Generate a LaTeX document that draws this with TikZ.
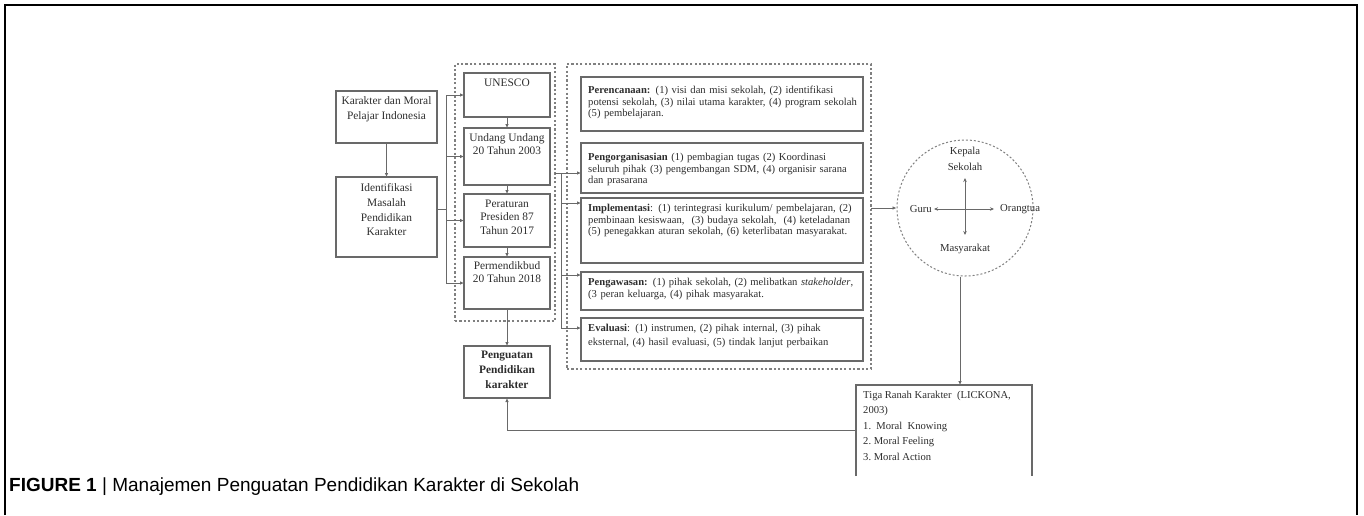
\documentclass[tikz,border=0pt]{standalone}
\usepackage{fontspec}
\setmainfont{Liberation Serif}
\newfontfamily\capfont{Liberation Sans}
\usetikzlibrary{arrows.meta}
\definecolor{lnc}{RGB}{105,105,105}
\definecolor{txc}{RGB}{45,45,45}
\newcommand\jline[1]{\leavevmode\hbox to 270pt{#1}}
\begin{document}
\begin{tikzpicture}[x=1pt,y=-1pt,
  box/.style={draw=lnc, line width=1.3pt, rectangle, inner sep=0pt, outer sep=0pt, anchor=north west},
  grp/.style={draw=lnc!85, line width=1.1pt, dash pattern=on 2.2pt off 2.2pt, rectangle, inner sep=0pt, outer sep=0pt, anchor=north west},
  wire/.style={draw=lnc, line width=1pt},
  arr/.style={draw=lnc, line width=1pt, -{Latex[length=4pt,width=3.6pt]}},
  lt/.style={font=\fontsize{11.4}{15}\selectfont, text=txc, align=center, anchor=north, inner sep=0pt},
  rt/.style={font=\fontsize{10.6}{11.6}\selectfont, text=txc, align=left, anchor=north west, inner sep=0pt, text width=270pt},
  ct/.style={font=\fontsize{10.7}{16}\selectfont, text=txc, align=center, inner sep=0pt}
]
\useasboundingbox (0,0) rectangle (1364,515);
% outer frame
\draw[line width=1.5pt] (5,515) -- (5,5) -- (1357,5) -- (1357,515);

% left column
\node[box, minimum width=101pt, minimum height=52pt] (kar) at (336,91) {};
\node[lt] (kart) at (386.5,96.5) {Karakter dan Moral\\Pelajar Indonesia};
\node[box, minimum width=101pt, minimum height=80pt] (ide) at (336,177) {};
\node[lt, font=\fontsize{11.4}{14.7}\selectfont] (idet) at (386.5,183.5) {Identifikasi\\Masalah\\Pendidikan\\Karakter};

% group 1
\node[grp, minimum width=100pt, minimum height=257pt] (grp1) at (455,64) {};
\node[box, minimum width=86pt, minimum height=44pt] (une) at (464,73) {};
\node[lt] (unet) at (507,78.5) {UNESCO};
\node[box, minimum width=86pt, minimum height=57pt] (uu) at (464,128) {};
\node[lt, font=\fontsize{11.4}{13}\selectfont] (uut) at (507,133.5) {Undang Undang\\20 Tahun 2003};
\node[box, minimum width=86pt, minimum height=53pt] (per) at (464,194) {};
\node[lt, font=\fontsize{11.4}{13.5}\selectfont] (pert) at (507,199.5) {Peraturan\\Presiden 87\\Tahun 2017};
\node[box, minimum width=86pt, minimum height=52pt] (pmd) at (464,257) {};
\node[lt, font=\fontsize{11.4}{13}\selectfont] (pmdt) at (507,261.5) {Permendikbud\\20 Tahun 2018};
\node[box, minimum width=86pt, minimum height=52pt] (pen) at (464,346) {};
\node[lt, font=\bfseries\fontsize{11.4}{15}\selectfont] (pent) at (507,350.5) {Penguatan\\Pendidikan\\karakter};

% group 2
\node[grp, minimum width=304pt, minimum height=305pt] (grp2) at (567,64) {};
\node[box, minimum width=282pt, minimum height=54pt] (r1) at (581,77) {};
\node[rt] (r1t) at (588,86) {\jline{\textbf{Perencanaan:} (1) visi dan misi sekolah, (2) identifikasi}\\
\jline{potensi sekolah, (3) nilai utama karakter, (4) program sekolah}\\
(5) pembelajaran.};
\node[box, minimum width=282pt, minimum height=50pt] (r2) at (581,143) {};
\node[rt] (r2t) at (588,153) {\jline{\textbf{Pengorganisasian} (1) pembagian tugas (2) Koordinasi}\\
\jline{seluruh pihak (3) pengembangan SDM, (4) organisir sarana}\\
dan prasarana};
\node[box, minimum width=282pt, minimum height=65pt] (r3) at (581,198) {};
\node[rt] (r3t) at (588,204) {\jline{\textbf{Implementasi}: (1) terintegrasi kurikulum/ pembelajaran, (2)}\\
\jline{pembinaan kesiswaan,\ \ (3) budaya sekolah,\ \ (4) keteladanan}\\
(5) penegakkan aturan sekolah, (6) keterlibatan masyarakat.};
\node[box, minimum width=282pt, minimum height=38pt] (r4) at (581,272) {};
\node[rt] (r4t) at (588,278) {\jline{\textbf{Pengawasan:} (1) pihak sekolah, (2) melibatkan \textit{stakeholder},}\\
(3 peran keluarga, (4) pihak masyarakat.};
\node[box, minimum width=282pt, minimum height=43pt] (r5) at (581,318) {};
\node[rt, font=\fontsize{10.6}{13.5}\selectfont] (r5t) at (588,324) {\textbf{Evaluasi}: (1) instrumen, (2) pihak internal, (3) pihak\\
eksternal, (4) hasil evaluasi, (5) tindak lanjut perbaikan};

% circle
\node[draw=lnc!85, line width=1pt, dash pattern=on 2pt off 2pt, circle, minimum size=136pt, inner sep=0pt] (circ) at (965,208) {};
\coordinate (cc) at (965,209);
\coordinate (cu) at (965,178);
\coordinate (cd) at (965,235);
\coordinate (cl) at (934,209);
\coordinate (cr) at (994,209);
\node[ct, anchor=north] (kep) at (965,147) {Kepala\\Sekolah};
\node[ct, anchor=east] (guru) at (932,209) {Guru};
\node[ct, anchor=west] (ort) at (1000,209) {Orangtua};
\node[ct, anchor=center] (mas) at (965,249) {Masyarakat};

% Tiga box (open at bottom)
\node[draw=none, rectangle, inner sep=0pt, outer sep=0pt, anchor=north west, minimum width=176pt, minimum height=91pt] (tiga) at (856,385) {};
\draw[draw=lnc, line width=1.3pt] (tiga.south west) -- (tiga.north west) -- (tiga.north east) -- (tiga.south east);
\node[ct, anchor=north west, align=left, font=\fontsize{10.6}{15.5}\selectfont] (tigat) at (863,390.5) {Tiga Ranah Karakter\ \ (LICKONA,\\2003)\\1.\ \ Moral\ \ Knowing\\2.\ Moral\ Feeling\\3.\ Moral\ Action};

% caption
\node[anchor=base west, inner sep=0pt, font=\capfont\fontsize{19}{23}\selectfont] (cap) at (9,491) {\textbf{FIGURE 1} | Manajemen Penguatan Pendidikan Karakter di Sekolah};

% connectors
\draw[arr] (kar.south) -- (ide.north);
\coordinate (fk) at (446,209);
\draw[wire] (ide.east |- fk) -- (fk);
\draw[wire] (fk |- une.west) -- (fk |- pmd.west);
\draw[arr] (fk |- une.west) -- (une.west);
\draw[arr] (fk |- uu.west) -- (uu.west);
\draw[arr] (fk |- per.west) -- (per.west);
\draw[arr] (fk |- pmd.west) -- (pmd.west);
\draw[arr] (une.south) -- (uu.north);
\draw[arr] (uu.south) -- (per.north);
\draw[arr] (per.south) -- (pmd.north);
\draw[arr] (pmd.south) -- (pen.north);

\coordinate (a1) at (561,173);
\coordinate (a2) at (561,203);
\coordinate (a3) at (561,275);
\coordinate (a4) at (561,328);
\draw[wire] (grp1.east |- a1) -- (a1) -- (a4);
\draw[arr] (a1) -- (a1 -| r2.west);
\draw[arr] (a2) -- (a2 -| r3.west);
\draw[arr] (a3) -- (a3 -| r4.west);
\draw[arr] (a4) -- (a4 -| r5.west);

\draw[arr] (grp2.east |- circ.west) -- (circ.west);
\draw[arr, -{Stealth[length=4pt,width=3.5pt]}] (cc) -- (cu);
\draw[arr, -{Stealth[length=4pt,width=3.5pt]}] (cc) -- (cd);
\draw[arr, -{Stealth[length=4pt,width=3.5pt]}] (cc) -- (cl);
\draw[arr, -{Stealth[length=4pt,width=3.5pt]}] (cc) -- (cr);

\draw[arr] ([xshift=-5pt]circ.south) -- ([xshift=-5pt]circ.south |- tiga.north);
\draw[arr] (tiga.west) -| (pen.south);
\end{tikzpicture}
\end{document}
